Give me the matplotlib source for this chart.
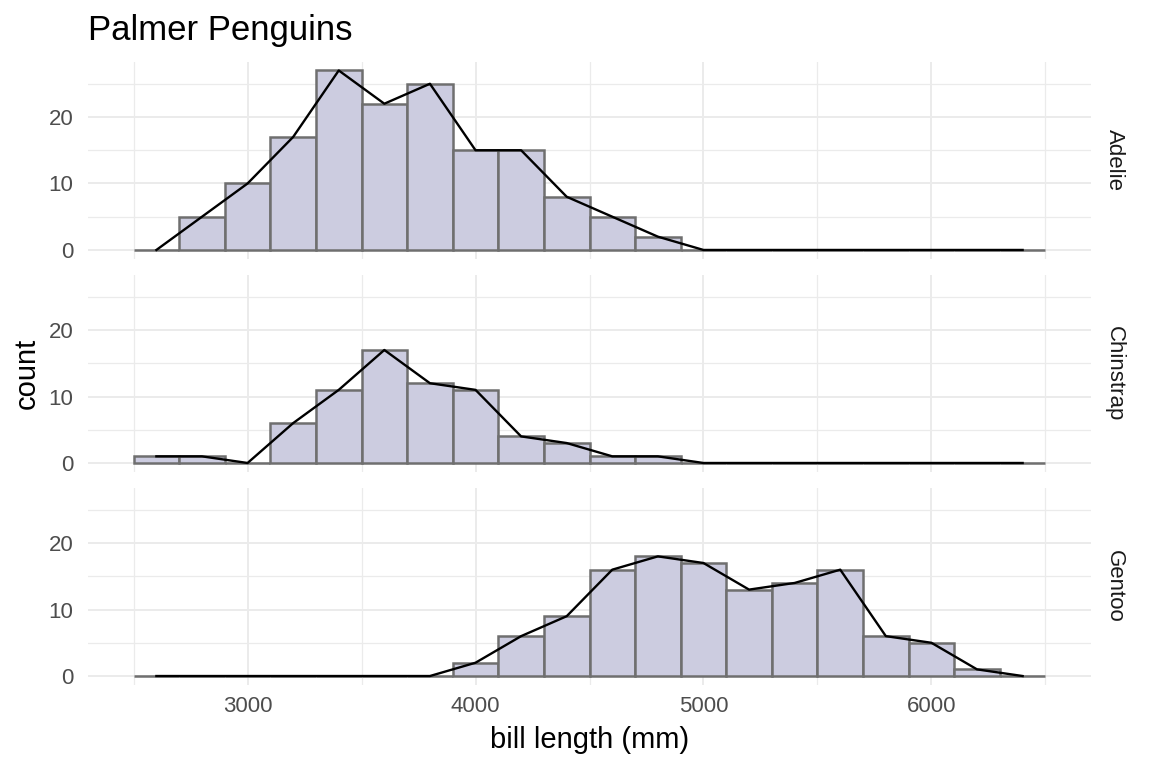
import matplotlib
matplotlib.use("Agg")
import matplotlib.pyplot as plt
from matplotlib.ticker import MultipleLocator

plt.rcParams['font.family'] = ['Liberation Sans', 'DejaVu Sans']

# histogram bins (centres, width 200) and counts per species
bin_centers = [2600, 2800, 3000, 3200, 3400, 3600, 3800, 4000, 4200, 4400,
               4600, 4800, 5000, 5200, 5400, 5600, 5800, 6000, 6200, 6400]
bin_width = 200
species = ['Adelie', 'Chinstrap', 'Gentoo']
adelie = [0, 5, 10, 17, 27, 22, 25, 15, 15, 8, 5, 2, 0, 0, 0, 0, 0, 0, 0, 0]
chinstrap = [1, 1, 0, 6, 11, 17, 12, 11, 4, 3, 1, 1, 0, 0, 0, 0, 0, 0, 0, 0]
gentoo = [0, 0, 0, 0, 0, 0, 0, 2, 6, 9, 16, 18, 17, 13, 14, 16, 6, 5, 1, 0]
counts = [adelie, chinstrap, gentoo]

W, H = 1152, 768
fig, axes = plt.subplots(3, 1, figsize=(11.52, 7.68), dpi=100, sharex=True)
fig.subplots_adjust(left=88 / W, right=1091 / W, bottom=1 - 685 / H,
                    top=1 - 61.5 / H, hspace=0.079)

for ax, name, c in zip(axes, species, counts):
    ax.set_facecolor('white')
    for s in ax.spines.values():
        s.set_visible(False)
    ax.bar(bin_centers, c, width=bin_width, color='#CCCCE0',
           edgecolor='#6F6F6F', linewidth=1.8, zorder=2)
    ax.plot(bin_centers, c, color='black', linewidth=1.7, zorder=3)
    ax.set_xlim(2300, 6700)
    ax.set_ylim(-1.35, 28.35)
    ax.xaxis.set_major_locator(MultipleLocator(1000))
    ax.xaxis.set_minor_locator(MultipleLocator(500))
    ax.yaxis.set_major_locator(MultipleLocator(10))
    ax.yaxis.set_minor_locator(MultipleLocator(5))
    ax.grid(which='major', color='#EBEBEB', linewidth=1.4, zorder=0)
    ax.grid(which='minor', color='#EBEBEB', linewidth=0.9, zorder=0)
    ax.set_axisbelow(True)
    ax.tick_params(which='both', length=0, labelsize=16, colors='#4D4D4D')
    ax.tick_params(axis='y', pad=10.5)
    ax.tick_params(axis='x', pad=8)
    pos = ax.get_position()
    fig.text(1114 / W, (pos.y0 + pos.y1) / 2, name, rotation=-90,
             ha='center', va='center', fontsize=16, color='#1A1A1A')

fig.text(88 / W, 1 - 40 / H, 'Palmer Penguins', fontsize=25, va='baseline',
         ha='left', color='black')
fig.text(589.5 / W, 1 - 748 / H, 'bill length (mm)', fontsize=21,
         va='baseline', ha='center', color='black')
fig.text(26.5 / W, 1 - 373 / H, 'count', fontsize=21, rotation=90,
         va='center', ha='center', color='black')

fig.savefig('out.png', dpi=100, facecolor='white')
